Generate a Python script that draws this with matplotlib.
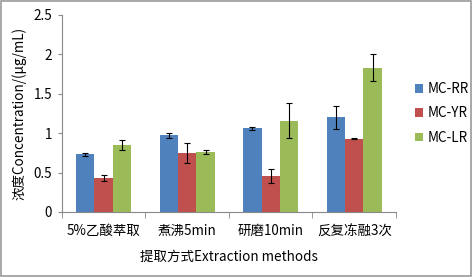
import numpy as np
import matplotlib
matplotlib.use('Agg')
import matplotlib.pyplot as plt
from matplotlib.patches import Rectangle

plt.rcParams['font.family'] = ['Noto Sans CJK SC', 'DejaVu Sans']

methods = ['5%乙酸萃取', '煮沸5min', '研磨10min', '反复冻融3次']
series = ['MC-RR', 'MC-YR', 'MC-LR']
colors = ['#4F81BD', '#C0504D', '#9BBB59']

rr = [0.73, 0.97, 1.06, 1.20]
yr = [0.43, 0.75, 0.46, 0.93]
lr = [0.85, 0.76, 1.16, 1.83]
rr_err = [0.02, 0.03, 0.02, 0.15]
yr_err = [0.04, 0.13, 0.09, 0.01]
lr_err = [0.06, 0.02, 0.22, 0.17]

values = [rr, yr, lr]
errors = [rr_err, yr_err, lr_err]

fs = 9.7

fig = plt.figure(figsize=(4.72, 2.77), dpi=100)
ax = fig.add_axes([0.131, 0.235, 0.708, 0.711])

x = np.arange(len(methods))
w = 0.22
for i, (vals, errs) in enumerate(zip(values, errors)):
    ax.bar(x + (i - 1) * w, vals, w, color=colors[i], label=series[i],
           yerr=errs, capsize=2.5,
           error_kw=dict(ecolor='black', elinewidth=0.8, capthick=0.8))

ax.set_xlim(-0.5, 3.5)
ax.set_ylim(0, 2.5)
ax.set_yticks([0, 0.5, 1, 1.5, 2, 2.5])
ax.set_yticklabels(['0', '0.5', '1', '1.5', '2', '2.5'])
ax.set_xticks(x)
ax.set_xticklabels(methods)
ax.set_xticks(np.arange(-0.5, 4, 1), minor=True)
ax.tick_params(axis='x', which='major', length=0, labelsize=fs, pad=9)
ax.tick_params(axis='x', which='minor', length=4, color='#888888')
ax.tick_params(axis='y', length=3, color='#888888', labelsize=fs, pad=4)

for s in ['top', 'right']:
    ax.spines[s].set_visible(False)
for s in ['left', 'bottom']:
    ax.spines[s].set_color('#888888')
    ax.spines[s].set_linewidth(0.8)

ax.set_ylabel('浓度Concentration/(μg/mL)', fontsize=fs, labelpad=5)
ax.set_xlabel('提取方式Extraction methods', fontsize=fs, labelpad=8)

ax.legend(loc='center left', bbox_to_anchor=(1.045, 0.5), frameon=False,
          borderaxespad=0, borderpad=0.3,
          fontsize=fs, handlelength=0.6, handleheight=0.6,
          handletextpad=0.3, labelspacing=0.75)

fig.add_artist(Rectangle((0.002, 0.003), 0.995, 0.993, transform=fig.transFigure,
                         fill=False, edgecolor='#999999', linewidth=1.2))

fig.savefig('out.png', dpi=100)
